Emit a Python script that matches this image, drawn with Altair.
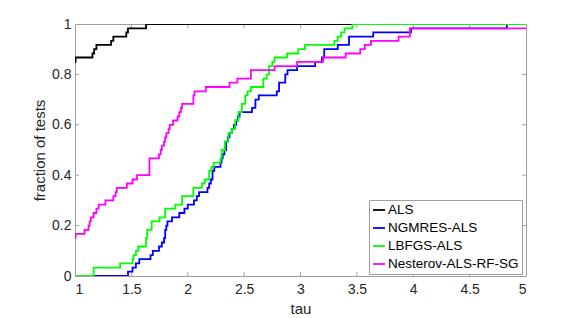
import altair as alt
import pandas as pd

series_names = ["ALS", "NGMRES-ALS", "LBFGS-ALS", "Nesterov-ALS-RF-SG"]
series_colors = ["#000000", "#0000ff", "#00ff00", "#ff00ff"]

als_tau = [1.0, 1.005, 1.155, 1.17, 1.19, 1.32, 1.34, 1.455, 1.47, 1.63, 5.0]
als_f = [0.85, 0.867, 0.883, 0.9, 0.917, 0.933, 0.95, 0.967, 0.983, 1.0, 1.0]

ngm_tau = [1.0, 1.47, 1.51, 1.54, 1.57, 1.67, 1.69, 1.745, 1.77, 1.79, 1.80, 1.81, 1.82,
           1.86, 1.925, 1.97, 2.0, 2.055, 2.08, 2.10, 2.175, 2.19, 2.205, 2.22, 2.235,
           2.29, 2.30, 2.31, 2.325, 2.34, 2.355, 2.37, 2.39, 2.41, 2.43, 2.445, 2.46,
           2.57, 2.60, 2.63, 2.79, 2.81, 2.865, 2.885, 2.97, 3.13, 3.19, 3.21, 3.33,
           3.43, 3.645, 3.98, 4.83, 5.0]
ngm_f = [0.0, 0.017, 0.033, 0.05, 0.067, 0.083, 0.1, 0.117, 0.133, 0.15, 0.183, 0.2, 0.217,
         0.233, 0.25, 0.267, 0.283, 0.3, 0.317, 0.333, 0.35, 0.367, 0.383, 0.417, 0.433,
         0.45, 0.467, 0.483, 0.5, 0.533, 0.55, 0.567, 0.583, 0.6, 0.617, 0.633, 0.65,
         0.667, 0.7, 0.717, 0.733, 0.767, 0.8, 0.817, 0.833, 0.85, 0.867, 0.9, 0.917,
         0.95, 0.967, 0.983, 1.0, 1.0]

lbf_tau = [1.0, 1.165, 1.40, 1.51, 1.52, 1.54, 1.56, 1.63, 1.64, 1.68, 1.75, 1.80, 1.89,
           1.95, 2.05, 2.125, 2.15, 2.19, 2.21, 2.23, 2.29, 2.30, 2.33, 2.36, 2.39, 2.42,
           2.45, 2.48, 2.51, 2.53, 2.56, 2.67, 2.70, 2.72, 2.75, 2.77, 2.88, 2.98, 3.04,
           3.30, 3.33, 3.36, 3.39, 3.46, 5.0]
lbf_f = [0.0, 0.033, 0.05, 0.067, 0.083, 0.1, 0.117, 0.15, 0.183, 0.217, 0.233, 0.267, 0.283,
         0.317, 0.35, 0.367, 0.383, 0.417, 0.433, 0.45, 0.467, 0.5, 0.533, 0.567, 0.583, 0.617,
         0.65, 0.683, 0.717, 0.733, 0.75, 0.783, 0.8, 0.833, 0.85, 0.867, 0.883, 0.9, 0.917,
         0.933, 0.95, 0.967, 0.983, 1.0, 1.0]

nes_tau = [1.0, 1.005, 1.085, 1.12, 1.13, 1.14, 1.165, 1.19, 1.21, 1.27, 1.34, 1.36, 1.37,
           1.46, 1.51, 1.55, 1.66, 1.745, 1.76, 1.77, 1.79, 1.80, 1.81, 1.83, 1.84, 1.87,
           1.91, 1.925, 1.94, 1.95, 2.05, 2.06, 2.16, 2.37, 2.44, 2.56, 2.77, 2.97, 3.2,
           3.4, 3.53, 3.57, 3.625, 3.87, 3.97, 5.0]
nes_f = [0.15, 0.167, 0.183, 0.2, 0.217, 0.233, 0.25, 0.267, 0.283, 0.3, 0.317, 0.333, 0.35,
         0.367, 0.383, 0.4, 0.467, 0.483, 0.5, 0.517, 0.533, 0.55, 0.567, 0.583, 0.6, 0.617,
         0.633, 0.65, 0.667, 0.683, 0.717, 0.733, 0.75, 0.767, 0.783, 0.817, 0.833, 0.85, 0.867,
         0.883, 0.9, 0.917, 0.933, 0.95, 0.983, 0.983]

x_ticks = [1, 1.5, 2, 2.5, 3, 3.5, 4, 4.5, 5]
y_ticks = [0, 0.2, 0.4, 0.6, 0.8, 1]

rows = []
for name, ts, fs in zip(series_names, [als_tau, ngm_tau, lbf_tau, nes_tau],
                        [als_f, ngm_f, lbf_f, nes_f]):
    for i, (t, f) in enumerate(zip(ts, fs)):
        rows.append({"series": name, "tau": t, "frac": f, "idx": i})
df = pd.DataFrame(rows)

W, H = 451, 252
FONT = "Liberation Sans"
GRAY = "#a0a0a0"
TXT = "#262626"

xscale = alt.Scale(domain=[1, 5], nice=False, zero=False)
yscale = alt.Scale(domain=[0, 1], nice=False, zero=False)

common_axis = dict(tickSize=0, domain=False, grid=False, labelFont=FONT, titleFont=FONT,
                   labelFontSize=14, titleFontSize=15, labelColor=TXT, titleColor=TXT,
                   titleFontWeight="normal")

lines = alt.Chart(df).mark_line(interpolate="step-after", strokeWidth=1.8, clip=True).encode(
    x=alt.X("tau:Q", scale=xscale,
            axis=alt.Axis(values=x_ticks, format="~g", title="tau",
                          labelPadding=6, titlePadding=5, **common_axis)),
    y=alt.Y("frac:Q", scale=yscale,
            axis=alt.Axis(values=y_ticks, format="~g", title="fraction of tests",
                          labelPadding=4, titlePadding=4, **common_axis)),
    color=alt.Color("series:N", scale=alt.Scale(domain=series_names, range=series_colors),
                    legend=alt.Legend(title=None, orient="none", legendX=294, legendY=176,
                                      symbolType="stroke", symbolSize=144, symbolStrokeWidth=1.8,
                                      labelFontSize=13.5, labelFont=FONT, labelColor="#000000",
                                      labelOffset=2, rowPadding=4, padding=3,
                                      strokeColor=GRAY, fillColor="#ffffff", labelLimit=300)),
    order=alt.Order("idx:Q"),
    detail="series:N",
)

xt = pd.DataFrame({"t": x_ticks[1:-1]})
yt = pd.DataFrame({"t": y_ticks[1:-1]})

xb = alt.Chart(xt).mark_rule(color=GRAY, strokeWidth=1).encode(
    x=alt.X("t:Q", scale=xscale), y=alt.value(H), y2=alt.value(H - 4))
xtop = alt.Chart(xt).mark_rule(color=GRAY, strokeWidth=1).encode(
    x=alt.X("t:Q", scale=xscale), y=alt.value(0), y2=alt.value(4))
yl = alt.Chart(yt).mark_rule(color=GRAY, strokeWidth=1).encode(
    y=alt.Y("t:Q", scale=yscale), x=alt.value(0), x2=alt.value(4))
yr = alt.Chart(yt).mark_rule(color=GRAY, strokeWidth=1).encode(
    y=alt.Y("t:Q", scale=yscale), x=alt.value(W), x2=alt.value(W - 4))

chart = alt.layer(xb, xtop, yl, yr, lines).properties(
    width=W, height=H,
    autosize=alt.AutoSizeParams(type="none"),
    padding={"left": 67, "top": 16, "right": 40, "bottom": 40},
    background="#ffffff",
).configure_view(stroke=GRAY, strokeWidth=1)

chart.save("out.html", embed_options={"renderer": "svg", "actions": False})
